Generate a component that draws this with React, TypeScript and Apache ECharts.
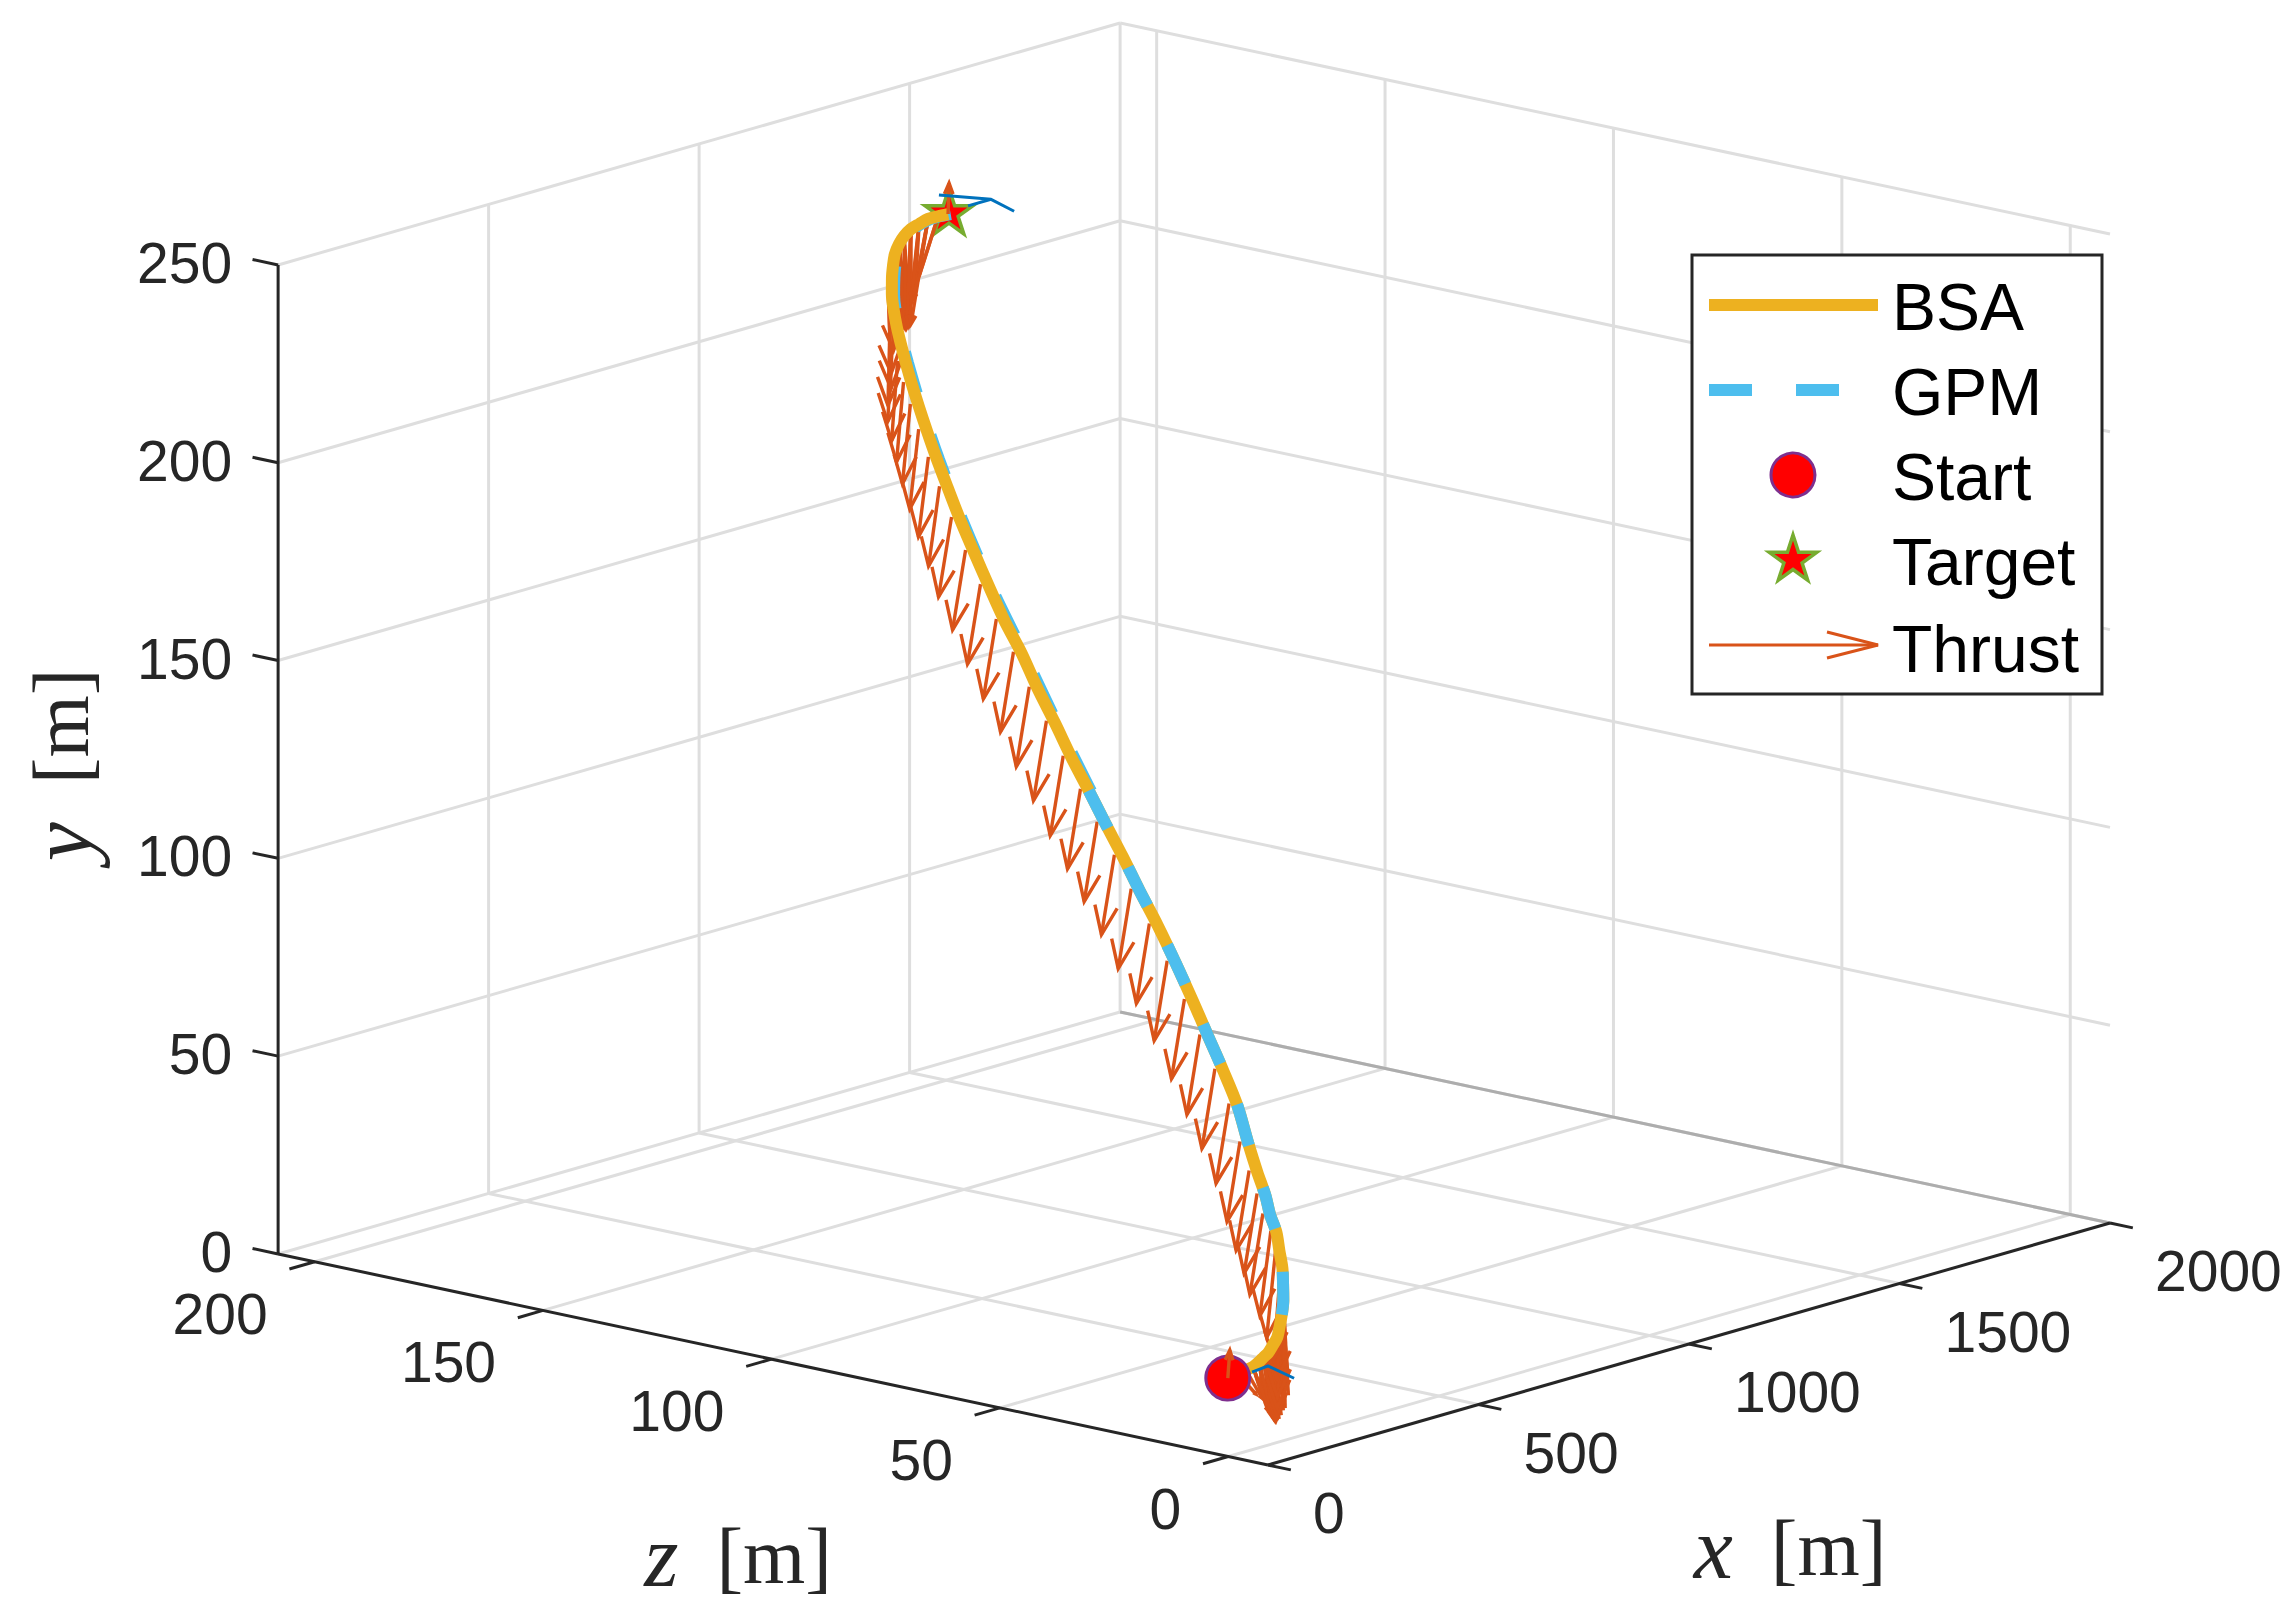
import React, { useEffect, useRef } from "react";
import * as echarts from "echarts";

// ---- tick values and labels
const xTicks = [0, 500, 1000, 1500, 2000];
const yTicks = [0, 50, 100, 150, 200, 250];
const zTicks = [0, 50, 100, 150, 200];
const X_RANGE = [0, 2000];
const Y_RANGE = [0, 250];
const Z_RANGE = [-8.7, 208];

// ---- trajectory nodes (x, y, z in metres)
const nodeX = [0,24,44,60,76,90,100,113,125,140,157,172,192,210,232,252,270,292,310,335,360,385,408,432,455,480,503,525,548,567,590,612,632,652,672,694,715,737,753,770,787,802,815,828,840,850,861,873,884,893,903,915,926,940,955,970,985,1000];
const nodeY = [19.8,20.1,20.5,20.8,21.5,22.3,23,24.2,26.1,28.5,30.8,33.3,36.3,39.3,42.5,45.9,48.9,52.5,56.9,62.4,70.1,76.8,83.4,90.3,97.8,104.9,111.5,118,124.2,130.6,136.8,143.6,150.2,157.1,163.4,170.2,176.9,183.3,189.6,195.5,201.1,206.2,210.7,215,218.9,222.4,226,229.2,232.5,235.3,237.9,240,241.7,243.1,244,245,245.4,245.7];
const nodeZ = [0.1,0.1,0.2,0.1,0.3,0.5,0.5,0.8,0.8,1.6,2.7,3.8,5.7,7.5,10.2,12.7,15.7,18.8,22.2,26.5,31.2,36.6,42,47.6,53.5,59.7,65.8,71.5,77.4,82.8,88.7,94.4,100,105.3,110.9,116.4,121.6,126.7,130.8,134.8,138.5,141.7,144.4,146.9,149.1,150.9,152.6,154.1,155.1,155.7,156.2,156.4,156.3,156.1,155.7,155.1,154.3,153.5];

// ---- thrust arrows at each node
const thrustBaseZ = [0,0,0,0,0,0,0,0,0,0,0,0,0,0.4,0.8,1.2,1.6,1.8,1.8,1.8,1.8,1.8,1.8,1.8,1.8,1.8,1.8,1.8,1.8,1.8,1.8,1.8,1.8,1.8,1.8,1.8,1.8,1.8,1.8,1.8,1.8,1.8,1.8,1.8,1.8,1.5,1,0.8,0.3,0,0,0,0,0,0,0,0,0];
const thrustZ = [-0.44,-3.94,-3.5,-3.72,-3.06,-2.19,-1.53,-0.66,0.22,0.66,1.09,1.31,1.31,1.53,1.97,2.41,2.85,2.85,2.85,2.85,2.85,2.85,2.85,2.85,2.85,2.85,2.85,2.85,2.85,2.85,2.85,2.85,2.85,2.85,2.85,2.85,2.85,2.85,2.41,2.19,1.97,1.75,1.53,1.31,1.09,0.44,-0.44,-0.66,-0.66,-2.19,-1.97,-1.31,-0.44,0.88,2.19,3.72,5.91,-0.22];
const thrustY = [7.19,-4.08,-6.22,-10.71,-13.4,-15.13,-16.56,-18.54,-21.03,-22.91,-24.28,-24.84,-24.34,-23.63,-22.73,-22.08,-21.18,-20.92,-20.92,-20.92,-20.92,-20.92,-20.92,-20.92,-20.92,-20.92,-20.92,-20.92,-20.92,-20.92,-20.92,-20.92,-20.92,-20.92,-20.92,-20.92,-20.92,-20.92,-20.82,-20.76,-20.71,-20.65,-20.6,-20.55,-20.49,-20.33,-20.11,-20.06,-18.04,-14.63,-17.71,-20.91,-23.15,-24.99,-26.32,-27.45,-22.94,7.89];
const thrustHead = [1,0.3,0.3,0.4,0.4,0.5,0.5,0.6,0.6,0.8,1,1,1,1,1,1,1,1,1,1,1,1,1,1,1,1,1,1,1,1,1,1,1,1,1,1,1,1,1,1,1,1,1,1,1,1,1,1,1,0.6,0.5,0.4,0.35,0.35,0.35,0.3,0.3,1];

// ---- extra stems that make the solid fans at both ends of the hatch
const fanNode = [3,4,5,6,7,8,9,10,11,3,4,5,6,7,8,6,7,8,9,5,10,11,12,50,51,52,53,54,55,56,51,52,53,54,55];
const fanZ = [-3.06,-2.85,-2.63,-2.41,-1.97,-1.31,-0.88,-0.66,-0.66,-1.97,-1.53,-1.31,-1.09,-1.09,-0.22,0.44,0.44,1.09,1.31,0.88,-1.31,-1.09,-0.44,-1.31,-0.88,-0.22,0.88,2.19,3.28,4.16,-1.75,-1.09,0,0.88,1.97];
const fanY = [-9.61,-12.95,-15.28,-16.09,-16.96,-18.13,-18.74,-19.3,-18.8,-6.59,-10.49,-13.58,-15.91,-18.44,-20.17,-11.99,-15.02,-19.23,-23.58,-7.29,-15.35,-23.74,-31.24,-15.35,-19.75,-22.7,-23.98,-23.79,-21.54,-16.19,-16.5,-17.43,-18.2,-17.15,-12.37];

// ---- GPM upper part (runs just beside BSA)
const gpmUpperX = [567,612,652,694,737,770,802,828,850,873,893,915,940,970,1000];
const gpmUpperY = [130.6,143.6,157.1,170.2,183.3,195.5,206.2,215,222.4,229.2,235.3,240,243.1,245,245.7];
const gpmUpperZ = [82.2,93.8,104.7,115.8,126.1,134.2,141.1,146.3,150.3,153.5,155.1,155.8,155.5,154.5,152.9];

// ---- short velocity polylines at both ends
const velStartX = [56.4, 94.5, 156.4];
const velStartY = [19.6, 20, 15];
const velStartZ = [0, 0, 0];
const velEndX = [978.3, 1102.1, 1156.9, 1102.1, 1047.4];
const velEndY = [251.2, 246.3, 241.6, 246.3, 246.3];
const velEndZ = [153.5, 153.5, 153.5, 153.5, 153.5];

const legendLabels = ["BSA", "GPM", "Start", "Target", "Thrust"];

// ---- colours
const BSA = "#EDB120";
const GPM = "#4DBEEE";
const THRUST = "#D95319";
const VEL = "#0072BD";
const GRID = "#dedede";
const AXIS = "#262626";
const FONT = '"Liberation Sans", Arial, sans-serif';
const STAR =
  "path://M0 -100L22.45 -30.9L95.1 -30.9L36.3 11.8L58.8 80.9L0 38.2L-58.8 80.9L-36.3 11.8L-95.1 -30.9L-22.45 -30.9Z";

// orthographic view of the MATLAB axes box
const proj = (x: number, y: number, z: number): [number, number] => [
  1268 + 0.421 * x - 4.568 * (z + 8.7),
  1465 - 0.121 * x - 0.974 * (z + 8.7) - 3.956 * y,
];

type Seg = number[];
const seg = (a: number[], b: number[]): Seg => {
  const p = proj(a[0], a[1], a[2]);
  const q = proj(b[0], b[1], b[2]);
  return [p[0], p[1], q[0], q[1]];
};

const [x0, x1] = X_RANGE;
const [y0, y1] = Y_RANGE;
const [z0, z1] = Z_RANGE;

function gridSegs(): Seg[] {
  const s: Seg[] = [];
  yTicks.forEach((y) => {
    s.push(seg([x0, y, z1], [x1, y, z1]));
    s.push(seg([x1, y, z1], [x1, y, z0]));
  });
  xTicks.forEach((x) => {
    if (x > x0) s.push(seg([x, y0, z1], [x, y1, z1]));
    if (x > x0 && x < x1) s.push(seg([x, y0, z0], [x, y0, z1]));
  });
  zTicks.forEach((z) => {
    s.push(seg([x1, y0, z], [x1, y1, z]));
    s.push(seg([x0, y0, z], [x1, y0, z]));
  });
  return s;
}

function axisSegs(): Seg[] {
  const s: Seg[] = [
    seg([x0, y0, z1], [x0, y1, z1]),
    seg([x0, y0, z1], [x0, y0, z0]),
    seg([x0, y0, z0], [x1, y0, z0]),
  ];
  yTicks.forEach((y) => s.push(seg([x0, y, z1], [x0, y, z1 + 5.6])));
  xTicks.forEach((x) => s.push(seg([x, y0, z0], [x, y0, z0 - 5])));
  zTicks.forEach((z) => s.push(seg([x0, y0, z], [x0 - 60, y0, z])));
  return s;
}

const segRender = (stroke: string, lineWidth: number) => (_: any, api: any) => {
  const a = api.coord([api.value(0), api.value(1)]);
  const b = api.coord([api.value(2), api.value(3)]);
  return {
    type: "line",
    shape: { x1: a[0], y1: a[1], x2: b[0], y2: b[1] },
    style: { stroke, lineWidth },
    silent: true,
  };
};

const arrowRender = (_: any, api: any) => {
  const a = api.coord([api.value(0), api.value(1)]);
  const b = api.coord([api.value(2), api.value(3)]);
  const dx = a[0] - b[0];
  const dy = a[1] - b[1];
  const len = Math.hypot(dx, dy) || 1;
  const head = Math.min(31, len * 0.38) * api.value(4);
  const ang = Math.atan2(dy, dx);
  const w = (21.5 * Math.PI) / 180;
  const l = [b[0] + head * Math.cos(ang + w), b[1] + head * Math.sin(ang + w)];
  const r = [b[0] + head * Math.cos(ang - w), b[1] + head * Math.sin(ang - w)];
  return {
    type: "group",
    silent: true,
    children: [
      { type: "polyline", shape: { points: [a, b] }, style: { stroke: THRUST, lineWidth: 3.4, fill: "none" } },
      { type: "polyline", shape: { points: [l, b, r] }, style: { stroke: THRUST, lineWidth: 3.4, fill: "none" } },
    ],
  };
};

const labelRender = (labels: string[], align: string, dx: number, dy: number) => (params: any, api: any) => {
  const a = api.coord([api.value(0), api.value(1)]);
  return {
    type: "text",
    x: a[0] + dx,
    y: a[1] + dy,
    silent: true,
    style: {
      text: labels[params.dataIndex],
      fill: AXIS,
      font: `57px ${FONT}`,
      align,
      verticalAlign: "middle",
    },
  };
};

const lineBase = {
  type: "line",
  showSymbol: false,
  symbol: "none",
  silent: true,
  clip: false,
  xAxisIndex: 0,
  yAxisIndex: 0,
};

function buildOption() {
  const pts = nodeX.map((x, i) => proj(x, nodeY[i], nodeZ[i]));
  const arrows = nodeX.map((x, i) => {
    const tz = nodeZ[i] + thrustBaseZ[i];
    return [...seg([x, nodeY[i], tz], [x, nodeY[i] + thrustY[i], tz + thrustZ[i]]), thrustHead[i]];
  });
  const fans = fanNode.map((n, i) =>
    seg([nodeX[n], nodeY[n], nodeZ[n]], [nodeX[n], nodeY[n] + fanY[i], nodeZ[n] + fanZ[i]])
  );
  const last = nodeX.length - 1;
  const title = (txt: string, x: number, y: number, rotation = 0) => ({
    type: "text",
    x,
    y,
    rotation,
    z: 50,
    silent: true,
    style: {
      text: txt,
      align: "center",
      verticalAlign: "middle",
      rich: {
        i: { font: 'italic 88px "Liberation Serif", serif', fill: AXIS },
        r: { font: '80px "Liberation Serif", serif', fill: AXIS, padding: [0, 0, 0, 38] },
      },
    },
  });
  const rowY = [307, 392, 477, 562, 649];
  const legend: any[] = [
    { type: "rect", z: 100, shape: { x: 1692, y: 255, width: 410, height: 439 }, style: { fill: "#fff", stroke: AXIS, lineWidth: 3 } },
    { type: "line", z: 101, shape: { x1: 1709, y1: 305, x2: 1878, y2: 305 }, style: { stroke: BSA, lineWidth: 12 } },
    { type: "line", z: 101, shape: { x1: 1709, y1: 390, x2: 1752, y2: 390 }, style: { stroke: GPM, lineWidth: 12 } },
    { type: "line", z: 101, shape: { x1: 1796, y1: 390, x2: 1839, y2: 390 }, style: { stroke: GPM, lineWidth: 12 } },
    { type: "circle", z: 101, shape: { cx: 1793, cy: 475, r: 22 }, style: { fill: "#FF0000", stroke: "#7E2F8E", lineWidth: 3 } },
    {
      type: "polygon",
      z: 101,
      shape: {
        points: [[1793, 535], [1798.6, 552.3], [1816.8, 552.3], [1802.1, 563], [1807.7, 580.2], [1793, 569.5], [1778.3, 580.2], [1783.9, 563], [1769.2, 552.3], [1787.4, 552.3]],
      },
      style: { fill: "#FF0000", stroke: "#77AC30", lineWidth: 3.5 },
    },
    { type: "line", z: 101, shape: { x1: 1709, y1: 645, x2: 1878, y2: 645 }, style: { stroke: THRUST, lineWidth: 3 } },
    { type: "polyline", z: 101, shape: { points: [[1827, 632], [1878, 645], [1827, 658]] }, style: { stroke: THRUST, lineWidth: 3, fill: "none" } },
  ];
  legendLabels.forEach((t, i) =>
    legend.push({
      type: "text",
      z: 101,
      x: 1892,
      y: rowY[i],
      style: { text: t, fill: "#000", font: `66px ${FONT}`, align: "left", verticalAlign: "middle" },
    })
  );

  const series: any[] = [
    { type: "custom", name: "grid", clip: false, renderItem: segRender(GRID, 3), data: gridSegs(), silent: true },
    { type: "custom", name: "backEdge", clip: false, renderItem: segRender("#adadad", 3), data: [seg([x1, y0, z1], [x1, y0, z0])], silent: true },
    { type: "custom", name: "axes", clip: false, renderItem: segRender(AXIS, 3), data: axisSegs(), silent: true },
    { type: "custom", name: "yLabels", clip: false, renderItem: labelRender(yTicks.map(String), "right", -46, -2), data: yTicks.map((y) => proj(x0, y, z1)), silent: true },
    { type: "custom", name: "zLabels", clip: false, renderItem: labelRender(zTicks.map(String), "right", -47, 52), data: zTicks.map((z) => proj(x0, y0, z)), silent: true },
    { type: "custom", name: "xLabels", clip: false, renderItem: labelRender(xTicks.map(String), "left", 45, 48), data: xTicks.map((x) => proj(x, y0, z0)), silent: true },
    {
      type: "scatter",
      name: "Target",
      silent: true,
      symbol: STAR,
      symbolSize: 48,
      symbolKeepAspect: true,
      itemStyle: { color: "#FF0000", opacity: 1, borderColor: "#77AC30", borderWidth: 3.5 },
      data: [proj(nodeX[last], nodeY[last] + 0.8, nodeZ[last] - 0.2)],
    },
    { type: "custom", name: "ThrustFan", clip: false, renderItem: segRender(THRUST, 3.6), data: fans, silent: true },
    { type: "custom", name: "Thrust", clip: false, renderItem: arrowRender, data: arrows.slice(1, last), silent: true },
    {
      ...lineBase,
      name: "GPM upper",
      smooth: 0.3,
      lineStyle: { color: GPM, width: 11, type: [43, 44], cap: "butt" },
      data: gpmUpperX.map((x, i) => proj(x, gpmUpperY[i], gpmUpperZ[i])),
    },
    {
      ...lineBase,
      name: "BSA",
      smooth: 0.3,
      lineStyle: { color: BSA, width: 12, cap: "butt", join: "round" },
      data: pts,
    },
    {
      ...lineBase,
      name: "GPM",
      smooth: 0.3,
      lineStyle: { color: GPM, width: 12, type: [43, 44], dashOffset: 64, cap: "butt" },
      data: pts.slice(8, 30),
    },
    {
      type: "scatter",
      name: "Start",
      silent: true,
      symbol: "circle",
      symbolSize: 44,
      itemStyle: { color: "#FF0000", opacity: 1, borderColor: "#7E2F8E", borderWidth: 3 },
      data: [pts[0]],
    },
    { type: "custom", name: "ThrustEnds", clip: false, renderItem: arrowRender, data: [arrows[0], arrows[last]], silent: true },
    {
      ...lineBase,
      name: "vStart",
      lineStyle: { color: VEL, width: 3 },
      data: velStartX.map((x, i) => proj(x, velStartY[i], velStartZ[i])),
    },
    {
      ...lineBase,
      name: "vEnd",
      lineStyle: { color: VEL, width: 3 },
      data: velEndX.map((x, i) => proj(x, velEndY[i], velEndZ[i])),
    },
  ];
  series.forEach((s, i) => {
    s.z = 2 + i;
  });

  return {
    animation: false,
    backgroundColor: "#fff",
    grid: { left: 0, top: 0, width: 2295, height: 1613, containLabel: false },
    xAxis: { type: "value", min: 0, max: 2295, show: false },
    yAxis: { type: "value", min: 0, max: 1613, inverse: true, show: false },
    tooltip: { show: false },
    graphic: [
      title("{i|y}{r|[m]}", 61, 765, Math.PI / 2),
      title("{i|z}{r|[m]}", 738, 1556),
      title("{i|x}{r|[m]}", 1790, 1548),
      ...legend,
    ],
    series,
  };
}

export default function App() {
  const ref = useRef<HTMLDivElement>(null);
  useEffect(() => {
    const chart = echarts.init(ref.current!, null, { renderer: "svg" });
    chart.setOption(buildOption() as any);
    return () => chart.dispose();
  }, []);
  return <div ref={ref} style={{ position: "absolute", left: 0, top: 0, width: 2295, height: 1613 }} />;
}
